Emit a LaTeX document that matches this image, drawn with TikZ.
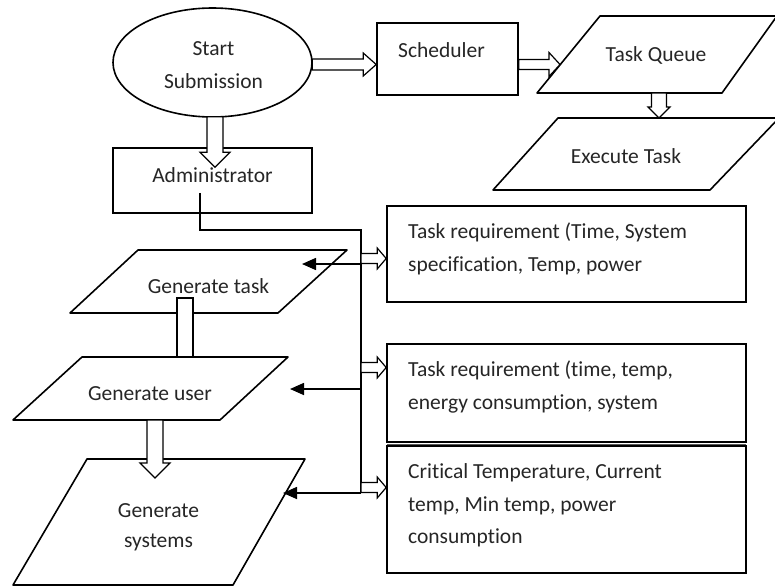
\documentclass[tikz,border=0pt]{standalone}
\usepackage{fontspec}
\setmainfont{Carlito}[Ligatures=NoCommon]
\usetikzlibrary{arrows.meta,calc,shapes.geometric}
\tikzset{
  ln/.style={line width=1.6pt, draw=black},
  shp/.style={draw=black, line width=1.6pt, fill=white, line join=round},
  boxn/.style={draw=black, line width=1.6pt, fill=white, inner sep=0pt},
  hollow/.style={draw=black, fill=white, line width=1.2pt, line join=miter},
  txt/.style={font=\fontsize{21.5}{33}\selectfont, text=black!85, inner sep=0pt},
  blk/.style={ln, -{Triangle[length=14pt,width=12pt]}},
}
\newcommand\hollowarrow[5]{%
  \coordinate (hb) at ($(#2)!#5!(#1)$);
  \draw[hollow] ($(#1)!#3!90:(#2)$) -- ($(hb)!#3!-90:(#1)$) -- ($(hb)!#4!-90:(#1)$) -- (#2)
     -- ($(hb)!#4!90:(#1)$) -- ($(hb)!#3!90:(#1)$) -- ($(#1)!#3!-90:(#2)$) -- cycle;}
\begin{document}
\begin{tikzpicture}[x=1pt,y=-1pt]
\useasboundingbox[fill=white] (0,0) rectangle (775,586);
% main shapes
\node[shp, ellipse, minimum width=199pt, minimum height=109pt, inner sep=0pt] (ell) at (212.5,62.5) {};
\node[boxn, minimum width=141pt, minimum height=72pt] (sched) at (447.5,59) {};
\node[boxn, minimum width=199pt, minimum height=65pt] (adm) at (212.5,180.5) {};
\draw[shp] (537,93) -- (600,16) -- (777,16) -- (722,93) -- cycle;
\draw[shp] (493,190) -- (558,118) -- (779,118) -- (710,190) -- cycle;
\draw[shp] (70,313) -- (138,250) -- (347,250) -- (278,313) -- cycle;
\draw[hollow] (177,298) rectangle (193,357);
\draw[shp] (13,420) -- (82,357) -- (288,357) -- (220,420) -- cycle;
\draw[shp] (13,585) -- (87,459) -- (305,459) -- (233,585) -- cycle;
\node[boxn, minimum width=359pt, minimum height=96pt] (b1) at (566.5,254) {};
\node[boxn, minimum width=359pt, minimum height=98pt] (b2) at (566.5,393) {};
\node[boxn, minimum width=359pt, minimum height=127pt] (b3) at (566.5,509.5) {};
\fill[black!65] ($(b2.south west)+(0.8,0.8)$) rectangle ($(b3.north east)+(-0.8,-0.8)$);
% hollow arrows
\coordinate (a1s) at ($(ell.east)+(-0.5,2)$);
\coordinate (a1e) at (a1s -| sched.west);
\hollowarrow{a1s}{a1e}{5.5pt}{11.5pt}{13pt}
\coordinate (a2s) at ($(sched.east)+(0,5.5)$);
\coordinate (a2e) at (560,64.5);
\hollowarrow{a2s}{a2e}{5pt}{12pt}{11pt}
\coordinate (a3s) at (659,93);
\coordinate (a3e) at (659,118);
\hollowarrow{a3s}{a3e}{7.5pt}{11pt}{11pt}
\coordinate (a4s) at ($(ell.south)+(2.5,-1)$);
\coordinate (a4e) at ($(adm.north)+(2.5,20)$);
\hollowarrow{a4s}{a4e}{8pt}{15pt}{15pt}
\coordinate (a5s) at (155,420);
\coordinate (a5e) at (155,478);
\hollowarrow{a5s}{a5e}{8pt}{15pt}{15pt}
% connector tree
\coordinate (a0) at ($(adm.south)+(-12.5,-21)$);
\coordinate (jt) at (361,230);
\coordinate (j1) at (361,264);
\coordinate (j2) at (361,389);
\coordinate (j3) at (361,493);
\draw[ln] (a0) |- (jt) -- (j3);
\coordinate (h1) at (361,258.5);
\coordinate (h2) at (361,367.5);
\coordinate (h3) at (361,487.5);
\coordinate (h1e) at (h1 -| b1.west);
\coordinate (h2e) at (h2 -| b2.west);
\coordinate (h3e) at (h3 -| b3.west);
\hollowarrow{h1}{h1e}{5pt}{10.5pt}{9pt}
\hollowarrow{h2}{h2e}{5pt}{10.5pt}{9pt}
\hollowarrow{h3}{h3e}{5pt}{10.5pt}{9pt}
\coordinate (t1) at (302,264);
\coordinate (t2) at (290,389);
\coordinate (t3) at (283,493);
\draw[blk] (j1) -- (t1);
\draw[blk] (j2) -- (t2);
\draw[blk] (j3) -- (t3);
% texts
\node[txt, anchor=north, align=center] (startT) at (213.5,38) {\rule{0pt}{17pt}Start\\Submission};
\node[txt, anchor=base] (schedT) at (441.5,57) {Scheduler};
\node[txt, anchor=base] (tqT) at (656,62) {Task Queue};
\node[txt, anchor=base] (exeT) at (626,163) {Execute Task};
\node[txt, anchor=base] (admT) at (212.5,182) {Administrator};
\node[txt, anchor=base] (gtT) at (208.5,293) {Generate task};
\node[txt, anchor=base] (guT) at (150,400) {Generate user};
\node[txt, font=\fontsize{21.5}{30}\selectfont, anchor=north, align=center] (gsT) at (158.5,500) {\rule{0pt}{17pt}Generate\\systems};
\node[txt, anchor=north west, align=left] (b1T) at (408,221) {\rule{0pt}{17pt}Task requirement (Time, System\\specification, Temp, power};
\node[txt, anchor=north west, align=left] (b2T) at (408,359.5) {\rule{0pt}{17pt}Task requirement (time, temp,\\energy consumption,  system};
\node[txt, font=\fontsize{21.5}{32.5}\selectfont, anchor=north west, align=left] (b3T) at (408,461.5) {\rule{0pt}{17pt}Critical Temperature, Current\\temp, Min temp, power\\consumption};
\end{tikzpicture}
\end{document}
